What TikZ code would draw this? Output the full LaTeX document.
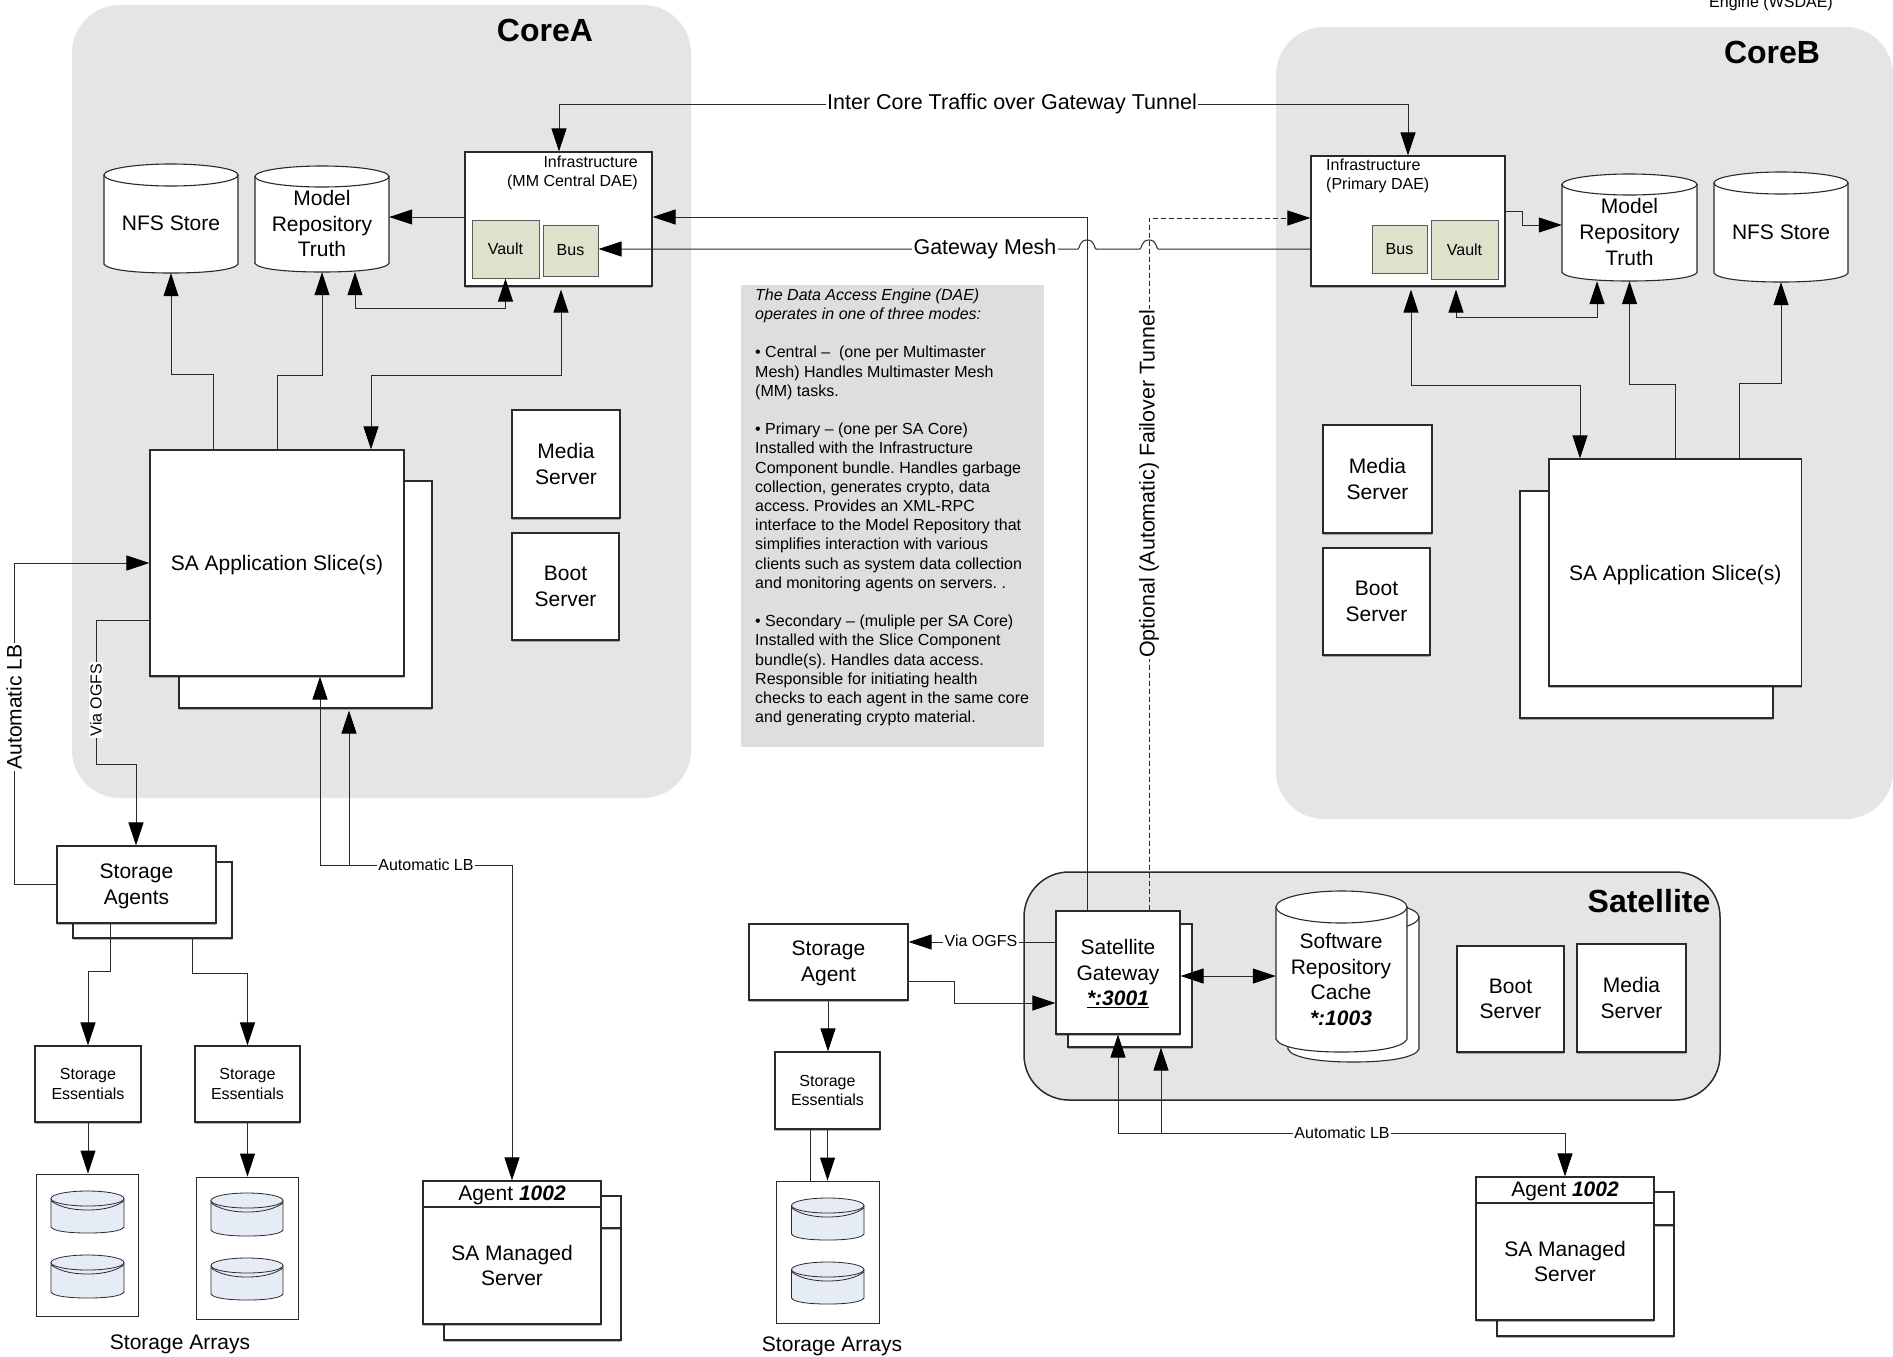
\documentclass[tikz,border=0pt]{standalone}
\usepackage{fontspec}
\setmainfont{Liberation Sans}
\usetikzlibrary{arrows.meta,shadows}
\definecolor{panelgray}{HTML}{E5E5E5}
\definecolor{notegray}{HTML}{DEDEDE}
\definecolor{olivebox}{HTML}{DDE2CC}
\definecolor{diskblue}{HTML}{E6ECF5}
\definecolor{ink}{HTML}{2A2A2A}
\tikzset{
  >={Triangle[length=23pt,width=15pt,black]},
  plainbox/.style={draw=ink,fill=white,line width=1.1pt,inner sep=0pt,align=center,
     font=\fontsize{21}{25.7}\selectfont,text=black},
  box/.style={plainbox,drop shadow={shadow xshift=0pt,shadow yshift=-1.5pt,opacity=.3,fill=black}},
  panel/.style={fill=panelgray,inner sep=0pt,rounded corners=48pt},
  satpanel/.style={draw=ink,line width=1.5pt,fill=panelgray,inner sep=0pt,rounded corners=45pt},
  olive/.style={plainbox,fill=olivebox,line width=1pt,draw=black!65,font=\fontsize{16}{19}\selectfont},
  smallbox/.style={box,font=\fontsize{16}{19.5}\selectfont},
  thinbox/.style={plainbox,line width=0.9pt},
  note/.style={fill=notegray,inner sep=0pt},
  ghost/.style={inner sep=0pt},
  conn/.style={draw=ink,line width=1pt},
  dashconn/.style={conn,dash pattern=on 5pt off 3pt,line width=0.9pt},
  bigtxt/.style={inner sep=0pt,align=center,font=\fontsize{21}{25.7}\selectfont},
  smalltxt/.style={inner sep=0pt,align=center,font=\fontsize{16}{19}\selectfont},
  titletxt/.style={inner sep=0pt,font=\fontsize{32}{36}\selectfont\bfseries},
  biglabel/.style={fill=white,inner sep=1.5pt,font=\fontsize{21.4}{25}\selectfont},
  smalllabel/.style={fill=white,inner sep=1.5pt,font=\fontsize{16}{19}\selectfont},
}
\newcommand{\mybox}[7]{%
  \node[#6,minimum width={(#4-#2)*1pt},minimum height={(#5-#3)*1pt}]
     (#1) at ({(#2+#4)/2},{(#3+#5)/2}) {#7};}
% box whose text is set on its own node, dy below the centre
\newcommand{\mytextbox}[8]{%
  \mybox{#1}{#2}{#3}{#4}{#5}{#6}{}%
  \node[bigtxt] (#1t) at ({(#2+#4)/2},{(#3+#5)/2+#7}) {#8};}
% cylinder: name x1 y1 x2 y2 ellipse-height
\newcommand{\mycyl}[6]{%
  \pgfmathsetmacro\myCx{(#2+#4)/2}%
  \pgfmathsetmacro\myRx{(#4-#2)/2}%
  \pgfmathsetmacro\myRy{#6/2}%
  \pgfmathsetmacro\myB{#6*0.4}%
  \filldraw[draw=ink,fill=white,line width=1.1pt]
    (#2,#3+\myRy) -- (#2,#5-\myB)
    .. controls (#2+\myRx*0.06,#5-\myB*0.35) and (\myCx-\myRx*0.55,#5) .. (\myCx,#5)
    .. controls (\myCx+\myRx*0.55,#5) and (#4-\myRx*0.06,#5-\myB*0.35) .. (#4,#5-\myB)
    -- (#4,#3+\myRy) -- cycle;
  \filldraw[draw=ink,fill=white,line width=1.1pt] (\myCx,#3+\myRy) ellipse [x radius=\myRx pt,y radius=\myRy pt];
  \mybox{#1}{#2}{#3}{#4}{#5}{ghost}{}}
% disk: name x1 y1 x2 y2
\newcommand{\mydisk}[5]{%
  \pgfmathsetmacro\myCx{(#2+#4)/2}%
  \pgfmathsetmacro\myRx{(#4-#2)/2}%
  \filldraw[draw=ink,fill=diskblue,line width=0.8pt]
    (#2,#3+7.5) -- (#2,#5-6)
    .. controls (#2+\myRx*0.06,#5-2) and (\myCx-\myRx*0.55,#5) .. (\myCx,#5)
    .. controls (\myCx+\myRx*0.55,#5) and (#4-\myRx*0.06,#5-2) .. (#4,#5-6)
    -- (#4,#3+7.5) -- cycle;
  \filldraw[draw=ink,fill=diskblue,line width=0.8pt] (\myCx,#3+7.5) ellipse [x radius=\myRx pt,y radius=7.5pt];
  \draw[ink,line width=0.8pt] (#2,#3+10) .. controls (#2+\myRx*0.2,#3+15) and (\myCx-\myRx*0.5,#3+19) .. (\myCx,#3+19)
     .. controls (\myCx+\myRx*0.5,#3+19) and (#4-\myRx*0.2,#3+15) .. (#4,#3+10);
  \mybox{#1}{#2}{#3}{#4}{#5}{ghost}{}}
% jump over a vertical line, running right to left
\newcommand{\myjump}[2]{(#1+9,#2) .. controls (#1+7,#2-0.5) and (#1+8,#2-9) .. (#1,#2-9) .. controls (#1-8,#2-9) and (#1-7,#2-0.5) .. (#1-9,#2)}
\begin{document}
\begin{tikzpicture}[x=1pt,y=-1pt]
\useasboundingbox (0,0) rectangle (1893,1357);
\fill[white] (0,0) rectangle (1893,1357);

% ---------- panels
\mybox{coreA}{72}{5}{691}{798}{panel}{}
\mybox{coreB}{1276}{27}{1893}{819}{panel}{}
\mybox{sat}{1024}{872}{1720}{1100}{satpanel}{}
\mybox{noteBg}{741}{285}{1044}{747}{note}{}

\node[titletxt] (coreAt) at (545,30) {CoreA};
\node[titletxt] (coreBt) at (1772,52) {CoreB};
\node[titletxt] (satt) at (1649,901) {Satellite};
\node[smalltxt,anchor=base] (wsdae) at (1771,8) {Engine (WSDAE)};

% ---------- note text
\node[inner sep=0pt,anchor=north west,align=left,font=\fontsize{16}{19.2}\selectfont\frenchspacing] (noteT) at (755,288.5) {%
\textit{The Data Access Engine (DAE)}\\
\textit{operates in one of three modes:}\\[19.2pt]
• Central –\ \ (one per Multimaster\\
Mesh) Handles Multimaster Mesh\\
(MM) tasks.\\[19.2pt]
• Primary – (one per SA Core)\\
Installed with the Infrastructure\\
Component bundle. Handles garbage\\
collection, generates crypto, data\\
access. Provides an XML-RPC\\
interface to the Model Repository that\\
simplifies interaction with various\\
clients such as system data collection\\
and monitoring agents on servers. .\\[19.2pt]
• Secondary – (muliple per SA Core)\\
Installed with the Slice Component\\
bundle(s). Handles data access.\\
Responsible for initiating health\\
checks to each agent in the same core\\
and generating crypto material.};

% ---------- CoreA content
\mycyl{nfsA}{104}{164}{238}{273}{22}
\node[bigtxt] (nfsAt) at (171,223.5) {NFS Store};
\mycyl{mrA}{255}{166}{389}{272}{21}
\node[bigtxt] (mrAt) at (322,223.5) {Model\\Repository\\Truth};
\mybox{infraA}{465}{152}{652}{286}{box}{}
\node[smalltxt,align=right,anchor=east] (infraAt) at (638,172.5) {Infrastructure\\(MM Central DAE)};
\mybox{vaultA}{472}{220}{539}{278}{olive}{Vault}
\mybox{busA}{543}{225}{598}{276}{olive}{Bus}
\mybox{slAb}{179}{481}{432}{708}{box}{}
\mytextbox{slA}{150}{450}{404}{676}{box}{2.5}{SA Application Slice(s)}
\mybox{mediaA}{512}{410}{620}{518}{box}{Media\\Server}
\mybox{bootA}{512}{533}{619}{640}{box}{Boot\\Server}

% ---------- CoreB content
\mycyl{mrB}{1562}{174}{1697}{281}{21}
\node[bigtxt] (mrBt) at (1629.5,232) {Model\\Repository\\Truth};
\mycyl{nfsB}{1714}{172}{1848}{282}{22}
\node[bigtxt] (nfsBt) at (1781,232) {NFS Store};
\mybox{infraB}{1311}{156}{1505}{286}{box}{}
\node[smalltxt,align=left,anchor=west] (infraBt) at (1326,176) {Infrastructure\\(Primary DAE)};
\mybox{busB}{1372}{225}{1427}{273}{olive}{Bus}
\mybox{vaultB}{1431}{220}{1498}{279}{olive}{Vault}
\mybox{slBb}{1520}{491}{1773}{718}{box}{}
\mytextbox{slB}{1549}{459}{1801.5}{686}{box}{2.5}{SA Application Slice(s)}
\mybox{mediaB}{1323}{425}{1432}{533}{box}{Media\\Server}
\mybox{bootB}{1323}{548}{1430}{655}{box}{Boot\\Server}

% ---------- Satellite content
\mybox{gwb}{1068}{924}{1192}{1047}{box}{}
\mytextbox{gw}{1056}{911}{1180}{1034}{box}{1}{Satellite\\Gateway\\{\bfseries\itshape\underline{*:3001}}}
\mycyl{cacheb}{1288}{901}{1419}{1062}{32}
\mycyl{cache}{1276}{891}{1407}{1052}{32}
\node[bigtxt] (cachet) at (1341,979.5) {Software\\Repository\\Cache\\{\bfseries\itshape *:1003}};
\mybox{bootS}{1457}{946}{1564}{1052}{box}{Boot\\Server}
\mybox{mediaS}{1577}{944}{1686}{1052}{box}{Media\\Server}

% ---------- storage left
\mybox{stAb}{73}{862}{232}{938}{box}{}
\mytextbox{stA}{57}{846}{216}{923}{box}{2}{Storage\\Agents}
\mybox{se1}{35}{1046}{141}{1122}{smallbox}{Storage\\Essentials}
\mybox{se2}{195}{1046}{300}{1122}{smallbox}{Storage\\Essentials}
\mybox{arr1}{36}{1174}{138}{1316}{thinbox}{}
\mybox{arr2}{196}{1177}{298}{1319}{thinbox}{}
\mydisk{d11}{51}{1191}{124}{1233}
\mydisk{d12}{51}{1255}{124}{1298}
\mydisk{d21}{211}{1193}{283}{1236}
\mydisk{d22}{211}{1258}{283}{1300}
\node[bigtxt] (arrT1) at (180,1344) {Storage Arrays};

% ---------- agent left
\mybox{agAbb}{444}{1196}{621}{1340}{box}{}
\mybox{agAbh}{444}{1196}{621}{1228}{box}{}
\mytextbox{agAh}{423}{1181}{601}{1207}{box}{1.5}{Agent {\bfseries\itshape 1002}}
\mybox{agA}{423}{1207}{601}{1324}{box}{SA Managed\\Server}

% ---------- storage centre
\mytextbox{stS}{749}{924}{908}{1000}{box}{1.5}{Storage\\Agent}
\mybox{se3}{775}{1052}{880}{1129}{smallbox}{Storage\\Essentials}
\mybox{arr3}{776.5}{1181}{879}{1323}{thinbox}{}
\mydisk{d31}{791.5}{1198}{864}{1240}
\mydisk{d32}{791.5}{1262}{864}{1304}
\node[bigtxt] (arrT3) at (832,1346) {Storage Arrays};

% ---------- agent right
\mybox{agBbb}{1497}{1192}{1674}{1336}{box}{}
\mybox{agBbh}{1497}{1192}{1674}{1225}{box}{}
\mytextbox{agBh}{1476}{1177}{1654}{1203}{box}{1.5}{Agent {\bfseries\itshape 1002}}
\mybox{agB}{1476}{1203}{1654}{1320}{box}{SA Managed\\Server}

% ---------- connectors: cores
\draw[conn,<->] (infraA.north -| 559,0) -- (559,104) -- (1408,104) -- (infraB.north -| 1408,0);
\draw[conn,->] (infraA.west |- 0,217) -- (mrA.east |- 0,217);
\draw[conn,->] (slA.north -| 213,0) -- (213,374) -- (171,374) -- (nfsA.south);
\draw[conn,->] (slA.north -| 277,0) -- (277,375) -- (322,375) -- (mrA.south);
\draw[conn,<->,shorten >=3pt] (slA.north -| 371,0) -- (371,375) -- (561,375) -- (infraA.south -| 561,0);
\draw[conn,<->] (vaultA.south) -- (505.5,308) -- (355,308) -- (mrA.south -| 355,0);
\draw[conn,->] (infraB.east |- 0,211) -- (1522,211) -- (1522,225) -- (mrB.west |- 0,225);
\draw[conn,<->,shorten <=3pt] (infraB.south -| 1456,0) -- (1456,317) -- (1597,317) -- (mrB.south -| 1597,0);
\draw[conn,<->,shorten <=3pt] (infraB.south -| 1411,0) -- (1411,385) -- (1580,385) -- (slB.north -| 1580,0);
\draw[conn,->] (slB.north -| 1675,0) -- (1675,384) -- (1629.5,384) -- (mrB.south);
\draw[conn,->] (slB.north -| 1739,0) -- (1739,383) -- (1781,383) -- (nfsB.south);

% gateway mesh with line jumps
\draw[conn,->] (infraB.west |- 0,249) -- \myjump{1149}{249} -- \myjump{1087}{249} -- (busA.east |- 0,249);
% satellite to infrastructure
\draw[conn,->] (gw.north -| 1087,0) -- (1087,217) -- (infraA.east |- 0,217);
\draw[dashconn,->] (gw.north -| 1149,0) -- (1149,218) -- (infraB.west |- 0,218);

% ---------- connectors: storage left
\draw[conn,->] (stA.west |- 0,884) -- (14,884) -- (14,563) -- (slA.west |- 0,563);
\draw[conn,->] (slA.west |- 0,620) -- (96,620) -- (96,764) -- (136,764) -- (stA.north -| 136,0);
\draw[conn,->] (stA.south -| 110,0) -- (110,971) -- (88,971) -- (se1.north);
\draw[conn,->] (stAb.south -| 192,0) -- (192,973) -- (247.5,973) -- (se2.north);
\draw[conn,->] (se1.south) -- (arr1.north -| se1.south);
\draw[conn,->] (se2.south) -- (arr2.north -| se2.south);
\draw[conn,<->] (agAh.north) -- (512,865) -- (320,865) -- (slA.south -| 320,0);
\draw[conn,->,shorten >=2pt] (349,865) -- (slAb.south -| 349,0);

% ---------- connectors: storage centre + satellite
\draw[conn,->] (gw.west |- 0,942) -- (stS.east |- 0,942);
\draw[conn,->] (stS.east |- 0,981) -- (954.5,981) -- (954.5,1003) -- (gw.west |- 0,1003);
\draw[conn,->] (stS.south -| 828,0) -- (se3.north -| 828,0);
\draw[conn,->] (se3.south -| 827.5,0) -- (arr3.north -| 827.5,0);
\draw[conn] (se3.south -| 810.6,0) -- (arr3.north -| 810.6,0);
\draw[conn,<->] (gw.east |- 0,976) -- (cache.west |- 0,976);
\draw[conn,<->] (agBh.north) -- (1565,1133) -- (1118,1133) -- (gw.south -| 1118,0);
\draw[conn,->] (1161,1133) -- (gwb.south -| 1161,0);

% ---------- connector labels
\node[biglabel,font=\fontsize{21.5}{25}\selectfont] (lblInter) at (1012,104) {Inter Core Traffic over Gateway Tunnel};
\node[biglabel] (lblMesh) at (985,249) {Gateway Mesh};
\node[biglabel,rotate=90] (lblFail) at (1149,484) {Optional (Automatic) Failover Tunnel};
\node[biglabel,font=\fontsize{21}{25}\selectfont,rotate=90] (lblLB) at (14,707) {Automatic LB};
\node[smalllabel,rotate=90] (lblOGFSa) at (96,700) {Via OGFS};
\node[smalllabel] (lblLBa) at (426,865) {Automatic LB};
\node[smalllabel] (lblOGFSs) at (981,941) {Via OGFS};
\node[smalllabel] (lblLBs) at (1342,1133) {Automatic LB};
\end{tikzpicture}
\end{document}
